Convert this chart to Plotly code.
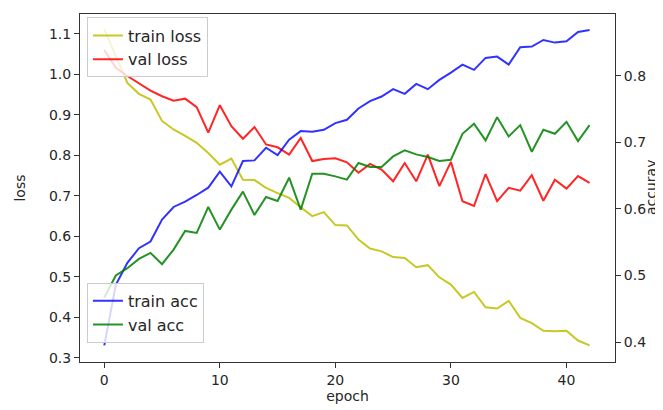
import plotly.graph_objects as go

epochs = list(range(43))

train_loss = [1.111, 1.045, 0.979, 0.952, 0.938, 0.885, 0.864, 0.848, 0.831, 0.806,
              0.777, 0.792, 0.740, 0.739, 0.720, 0.707, 0.695, 0.672, 0.650, 0.660,
              0.628, 0.627, 0.592, 0.570, 0.563, 0.549, 0.547, 0.524, 0.529, 0.499,
              0.481, 0.448, 0.463, 0.425, 0.422, 0.441, 0.399, 0.386, 0.367, 0.366,
              0.367, 0.343, 0.331]

val_loss = [1.060, 1.016, 0.996, 0.977, 0.960, 0.946, 0.935, 0.940, 0.919, 0.856,
            0.924, 0.872, 0.841, 0.870, 0.827, 0.820, 0.802, 0.843, 0.786, 0.791,
            0.793, 0.783, 0.757, 0.779, 0.765, 0.736, 0.781, 0.736, 0.802, 0.724,
            0.784, 0.687, 0.675, 0.754, 0.687, 0.720, 0.713, 0.751, 0.688, 0.740,
            0.718, 0.749, 0.732]

train_acc = [0.395, 0.486, 0.519, 0.541, 0.551, 0.584, 0.603, 0.611, 0.621, 0.632,
             0.656, 0.634, 0.672, 0.673, 0.692, 0.681, 0.704, 0.717, 0.716, 0.719,
             0.729, 0.734, 0.751, 0.762, 0.769, 0.780, 0.773, 0.788, 0.780, 0.794,
             0.805, 0.817, 0.809, 0.827, 0.829, 0.817, 0.843, 0.844, 0.854, 0.850,
             0.852, 0.866, 0.869]

val_acc = [0.467, 0.500, 0.511, 0.525, 0.534, 0.517, 0.539, 0.567, 0.564, 0.603,
           0.569, 0.599, 0.626, 0.591, 0.618, 0.612, 0.647, 0.599, 0.653, 0.653,
           0.649, 0.644, 0.669, 0.663, 0.663, 0.679, 0.688, 0.682, 0.678, 0.672,
           0.674, 0.713, 0.728, 0.703, 0.738, 0.709, 0.726, 0.686, 0.719, 0.713,
           0.731, 0.702, 0.726]

FONT = "DejaVu Sans"
TXT = "#262626"

fig = go.Figure()
fig.add_trace(go.Scatter(x=epochs, y=train_loss, mode="lines", name="train loss",
                         line=dict(color="#bfbf00", width=2), opacity=0.85,
                         legend="legend"))
fig.add_trace(go.Scatter(x=epochs, y=val_loss, mode="lines", name="val loss",
                         line=dict(color="#ff0000", width=2), opacity=0.85,
                         legend="legend"))
fig.add_trace(go.Scatter(x=epochs, y=train_acc, mode="lines", name="train acc",
                         line=dict(color="#0000ff", width=2), opacity=0.8,
                         yaxis="y2", legend="legend2"))
fig.add_trace(go.Scatter(x=epochs, y=val_acc, mode="lines", name="val acc",
                         line=dict(color="#008000", width=2), opacity=0.85,
                         yaxis="y2", legend="legend2"))

axis_common = dict(showgrid=False, zeroline=False, showline=True, linecolor="#333",
                   linewidth=1, ticks="outside", ticklen=5, tickcolor="#333",
                   tickfont=dict(family=FONT, size=14, color=TXT))

fig.update_layout(
    width=663, height=410,
    margin=dict(l=72, r=56, t=6, b=56),
    paper_bgcolor="white", plot_bgcolor="white",
    font=dict(family=FONT, size=14, color=TXT),
    xaxis=dict(range=[-2.1, 44.2], tickvals=[0, 10, 20, 30, 40], mirror=True,
               title=dict(text="epoch", font=dict(family=FONT, size=14, color=TXT), standoff=3),
               **axis_common),
    yaxis=dict(range=[0.290, 1.149], tickvals=[0.3, 0.4, 0.5, 0.6, 0.7, 0.8, 0.9, 1.0, 1.1],
               tickformat=".1f", mirror=True,
               title=dict(text="loss", font=dict(family=FONT, size=14, color=TXT), standoff=20),
               **axis_common),
    yaxis2=dict(range=[0.370, 0.893], tickvals=[0.4, 0.5, 0.6, 0.7, 0.8], tickformat=".1f",
                overlaying="y", side="right",
                **axis_common),
    legend=dict(x=0.013, y=0.99, xanchor="left", yanchor="top",
                bgcolor="rgba(255,255,255,0.8)", bordercolor="#cccccc", borderwidth=1,
                font=dict(family=FONT, size=16, color=TXT), tracegroupgap=0,
                itemwidth=30),
    legend2=dict(x=0.013, y=0.055, xanchor="left", yanchor="bottom",
                 bgcolor="rgba(255,255,255,0.8)", bordercolor="#cccccc", borderwidth=1,
                 font=dict(family=FONT, size=16, color=TXT), tracegroupgap=0,
                 itemwidth=30),
    showlegend=True,
    annotations=[dict(text="accuray", xref="paper", yref="paper", x=(643 - 72) / 535,
                      y=0.5, xanchor="center", yanchor="middle", textangle=-90,
                      showarrow=False, font=dict(family=FONT, size=14, color=TXT))],
)

fig.write_html("out.html")
